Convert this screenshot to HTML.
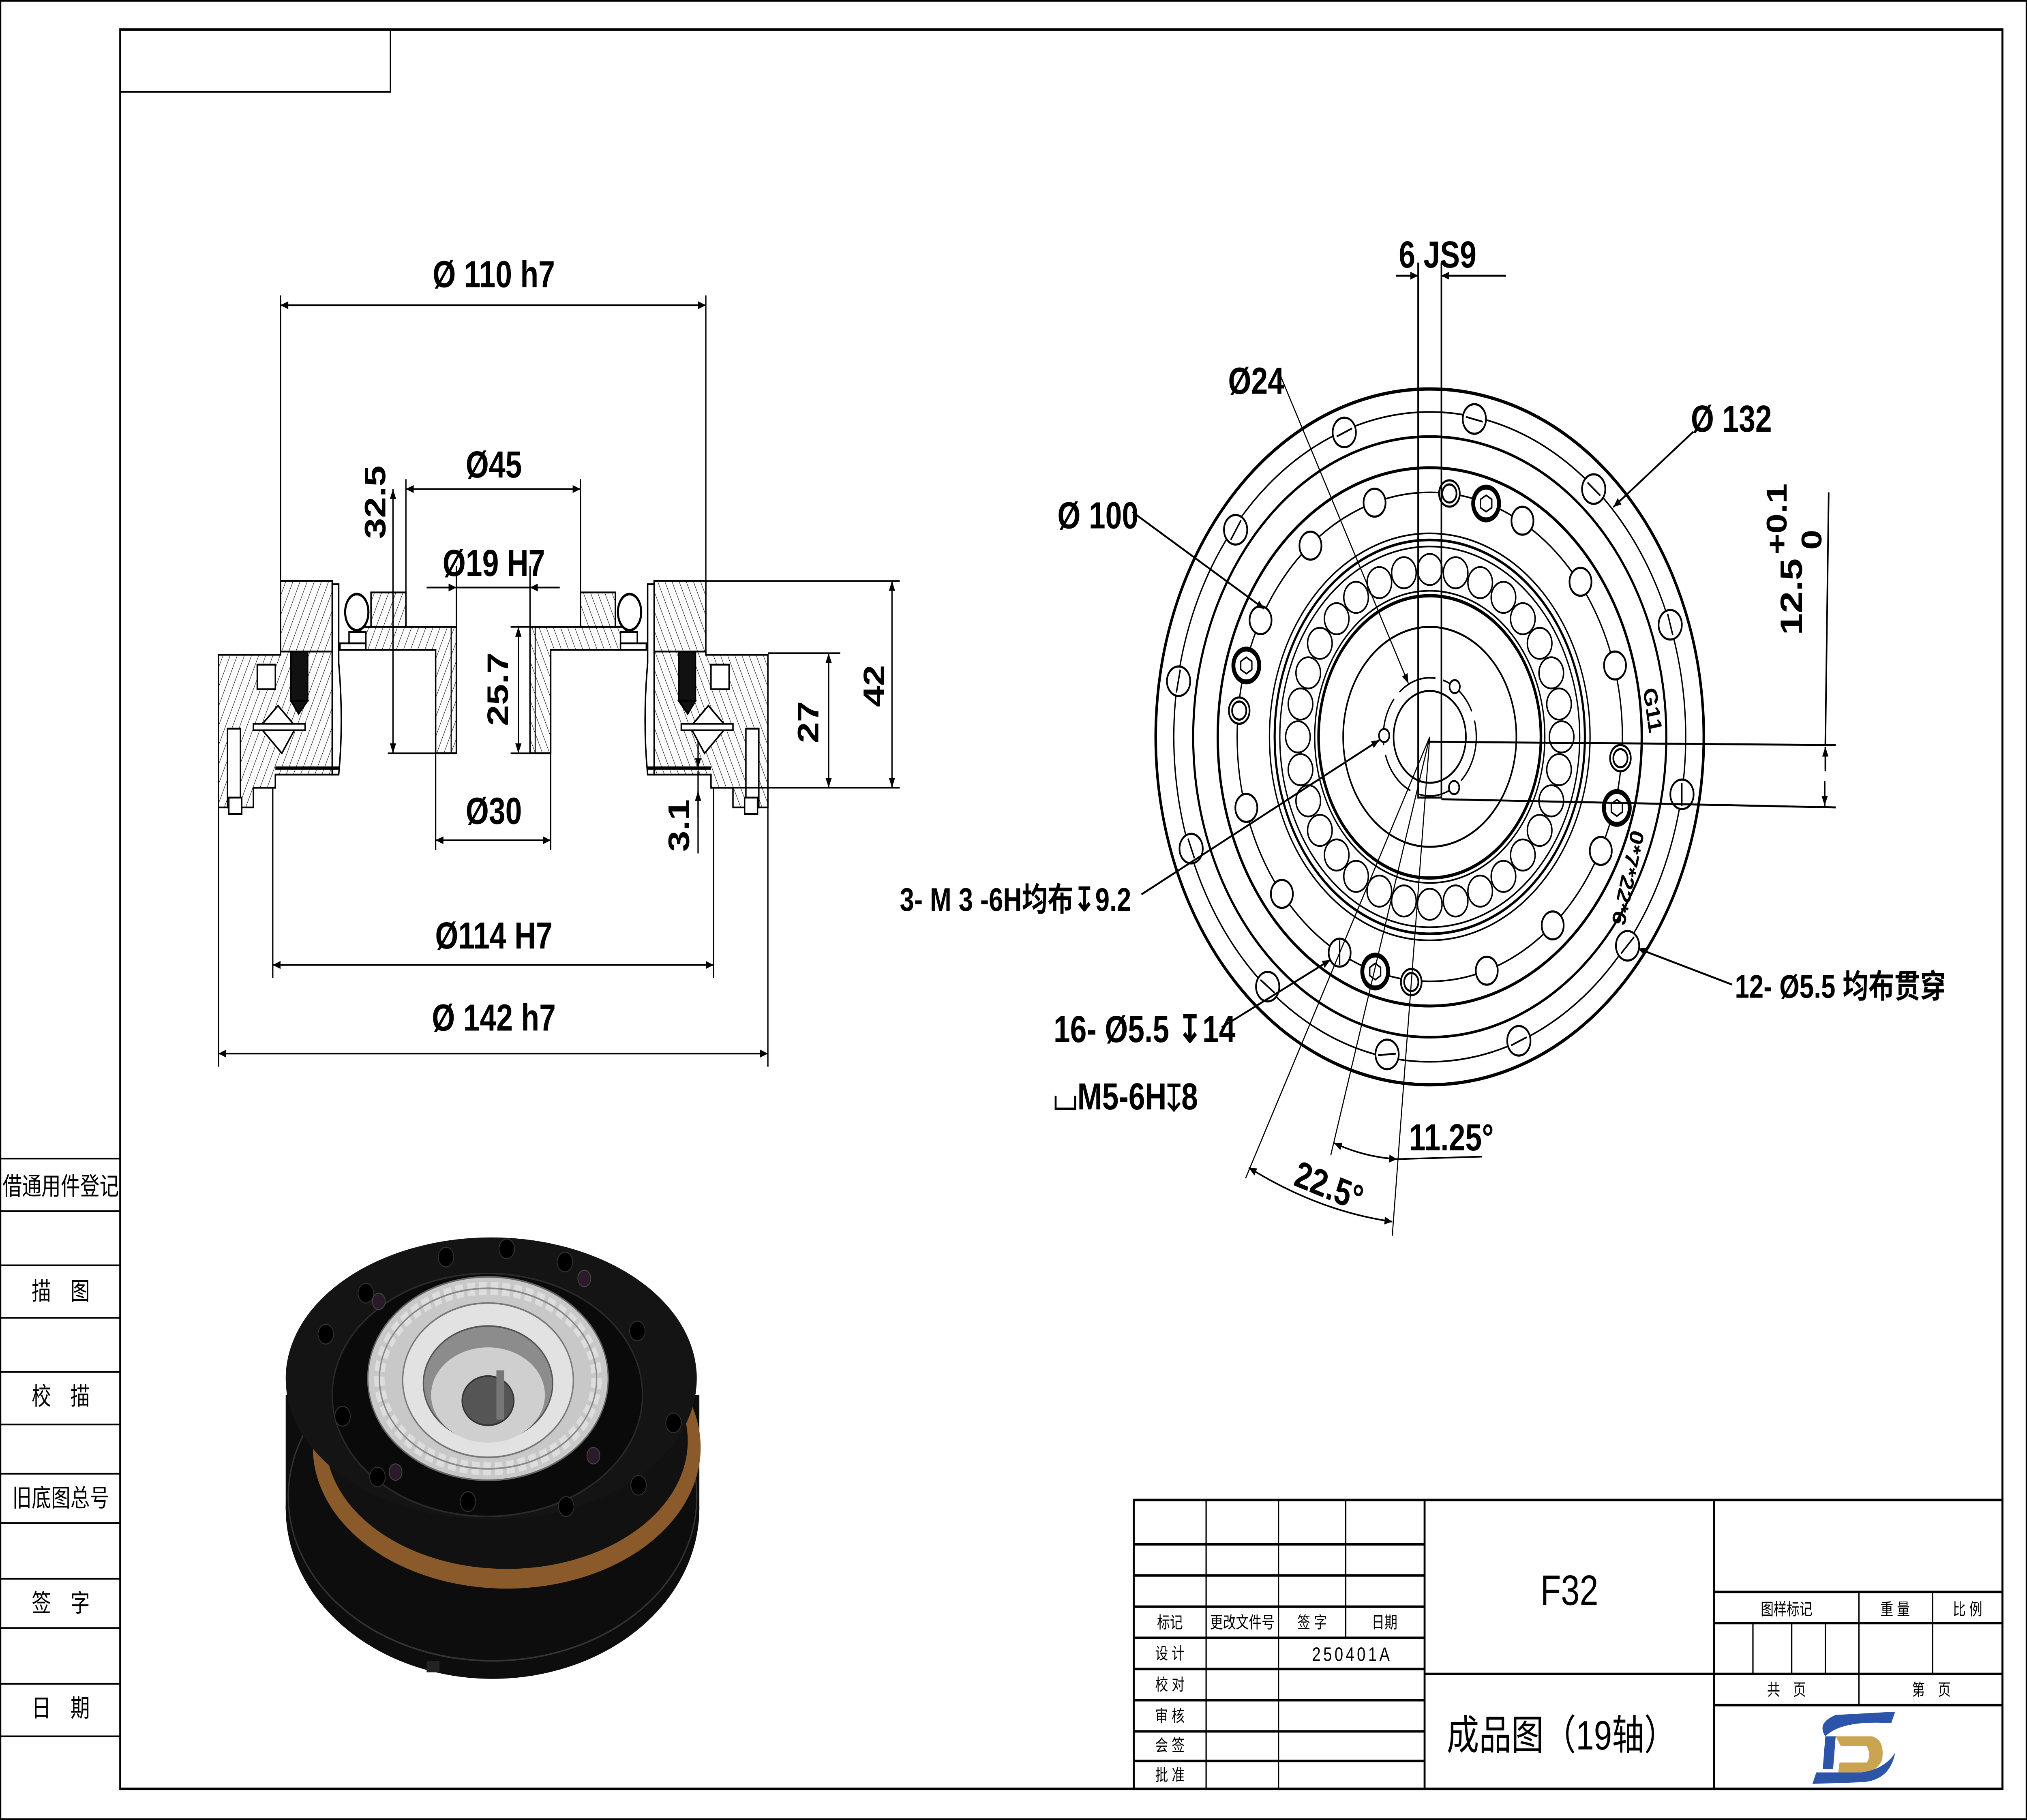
<!DOCTYPE html>
<html><head><meta charset="utf-8">
<style>
html,body{margin:0;padding:0;background:#fff;width:100%;height:100%;overflow:hidden;}
svg{display:block;width:100vw;height:100vh;}
text{font-family:"Liberation Sans Narrow","Liberation Sans","Noto Sans CJK SC",sans-serif;fill:#000;}
.cj{font-family:"Liberation Sans","Noto Sans CJK SC",sans-serif;}
</style></head><body>
<svg viewBox="0 0 1568 1109" preserveAspectRatio="none" xmlns="http://www.w3.org/2000/svg">
<defs>
<pattern id="h" width="5" height="5" patternUnits="userSpaceOnUse" patternTransform="rotate(25)">
<rect width="5" height="5" fill="#fff"/><line x1="0" y1="0" x2="0" y2="5" stroke="#000" stroke-width="0.6"/></pattern>
<marker id="a" viewBox="0 0 10 10" refX="10" refY="5" markerWidth="9" markerHeight="6" orient="auto-start-reverse" markerUnits="userSpaceOnUse"><path d="M0,1 L10,5 L0,9z" fill="#000"/></marker>
</defs>
<rect width="1568" height="1109" fill="#fff"/>
<rect x="93" y="18" width="1456" height="1072" fill="none" stroke="#000" stroke-width="1.5"/>
<rect x="0.5" y="0.5" width="1567" height="1108" fill="none" stroke="#000" stroke-width="1"/>
<polyline points="93,56 302,56 302,18" fill="none" stroke="#000" stroke-width="1"/>
<g stroke="#000" stroke-width="1">
<line x1="0" y1="706" x2="93" y2="706"/><line x1="0" y1="738" x2="93" y2="738"/>
<line x1="0" y1="771" x2="93" y2="771"/><line x1="0" y1="803" x2="93" y2="803"/>
<line x1="0" y1="836" x2="93" y2="836"/><line x1="0" y1="868" x2="93" y2="868"/>
<line x1="0" y1="898" x2="93" y2="898"/><line x1="0" y1="928" x2="93" y2="928"/>
<line x1="0" y1="962" x2="93" y2="962"/><line x1="0" y1="992" x2="93" y2="992"/>
<line x1="0" y1="1026" x2="93" y2="1026"/><line x1="0" y1="1058" x2="93" y2="1058"/>
</g>
<g font-size="15" text-anchor="middle">
<text x="47" y="728" class="cj">借通用件登记</text>
<text x="47" y="792" class="cj">描　图</text>
<text x="47" y="856" class="cj">校　描</text>
<text x="47" y="918" class="cj">旧底图总号</text>
<text x="47" y="982" class="cj">签　字</text>
<text x="47" y="1046" class="cj">日　期</text>
</g>

<!-- SECTION VIEW -->
<g id="half" stroke="#000" stroke-width="1.1">
<path d="M169,399 H217 V397 H257 V472 H213 V480 H196 V492 H169 Z" fill="url(#h)"/>
<rect x="217" y="354" width="40" height="43" fill="url(#h)"/>
<path d="M257,356 H262 V404 Q266,440 262,472 H257 Z" fill="#fff"/>
<rect x="199" y="405" width="14" height="15" fill="#fff"/>
<rect x="225" y="397" width="13" height="30" fill="#111"/>
<path d="M225,427 L231,435 L238,427Z" fill="#111"/>
<path d="M215,430 L229,443 L218,459 L201,443 Z" fill="#fff"/>
<rect x="196" y="441" width="40" height="4" fill="#fff"/>
<rect x="176" y="444" width="10" height="48" fill="#fff"/>
<rect x="177" y="486" width="10" height="10" fill="#fff"/>
<line x1="213" y1="468" x2="262" y2="468" stroke-width="2"/>
<rect x="287" y="361" width="27" height="21" fill="url(#h)"/>
<path d="M279,382 H353 V459 H337 V396 H279 Z" fill="url(#h)"/>
<line x1="349" y1="382" x2="349" y2="459" stroke-width="0.8"/>
<ellipse cx="276" cy="373" rx="9" ry="11" fill="#fff" stroke-width="1.6"/>
<rect x="270" y="385" width="13" height="8" fill="#fff"/>
<rect x="263" y="392" width="20" height="4" fill="#fff"/>
</g>
<use href="#half" transform="translate(763,0) scale(-1,1)"/>
<g stroke="#000" stroke-width="1" fill="none">
<line x1="217" y1="180" x2="217" y2="354"/><line x1="546" y1="180" x2="546" y2="354"/>
<line x1="217" y1="186" x2="546" y2="186" marker-start="url(#a)" marker-end="url(#a)"/>
<line x1="314" y1="292" x2="314" y2="361"/><line x1="449" y1="292" x2="449" y2="361"/>
<line x1="314" y1="298" x2="449" y2="298" marker-start="url(#a)" marker-end="url(#a)"/>
<line x1="330" y1="358" x2="353" y2="358" marker-end="url(#a)"/><line x1="433" y1="358" x2="410" y2="358" marker-end="url(#a)"/>
<line x1="353" y1="358" x2="410" y2="358"/>
<line x1="353" y1="345" x2="353" y2="382"/><line x1="410" y1="345" x2="410" y2="382"/>
<line x1="304" y1="298" x2="304" y2="459" marker-start="url(#a)" marker-end="url(#a)"/>
<line x1="300" y1="459" x2="337" y2="459"/>
<line x1="401" y1="382" x2="401" y2="459" marker-start="url(#a)" marker-end="url(#a)"/>
<line x1="395" y1="382" x2="410" y2="382"/><line x1="395" y1="459" x2="410" y2="459"/>
<line x1="337" y1="459" x2="337" y2="518"/><line x1="426" y1="459" x2="426" y2="518"/>
<line x1="337" y1="512" x2="426" y2="512" marker-start="url(#a)" marker-end="url(#a)"/>
<line x1="540" y1="470" x2="540" y2="520"/><line x1="540" y1="452" x2="540" y2="468" marker-end="url(#a)"/>
<line x1="540" y1="498" x2="540" y2="482" marker-end="url(#a)"/>
<line x1="594" y1="398" x2="650" y2="398"/><line x1="550" y1="480" x2="696" y2="480"/>
<line x1="546" y1="354" x2="696" y2="354"/>
<line x1="641" y1="398" x2="641" y2="480" marker-start="url(#a)" marker-end="url(#a)"/>
<line x1="690" y1="354" x2="690" y2="480" marker-start="url(#a)" marker-end="url(#a)"/>
<line x1="211" y1="480" x2="211" y2="596"/><line x1="552" y1="480" x2="552" y2="596"/>
<line x1="211" y1="588" x2="552" y2="588" marker-start="url(#a)" marker-end="url(#a)"/>
<line x1="169" y1="492" x2="169" y2="650"/><line x1="594" y1="492" x2="594" y2="650"/>
<line x1="169" y1="642" x2="594" y2="642" marker-start="url(#a)" marker-end="url(#a)"/>
</g>
<g font-size="23" text-anchor="middle" font-weight="bold">
<text x="382" y="175">Ø 110 h7</text>
<text x="382" y="291">Ø45</text>
<text x="382" y="351">Ø19 H7</text>
<text x="382" y="502">Ø30</text>
<text x="382" y="578">Ø114 H7</text>
<text x="382" y="628">Ø 142 h7</text>
<text transform="translate(298,306) rotate(-90)">32.5</text>
<text transform="translate(393,420) rotate(-90)">25.7</text>
<text transform="translate(533,503) rotate(-90)">3.1</text>
<text transform="translate(633,440) rotate(-90)">27</text>
<text transform="translate(684,418) rotate(-90)">42</text>
</g>

<!-- FRONT VIEW -->
<g fill="none" stroke="#000" stroke-width="1.3">
<circle cx="1106" cy="449" r="212" stroke-width="2"/>
<circle cx="1106" cy="449" r="198" stroke-width="1"/>
<circle cx="1106" cy="449" r="183" stroke-width="1.6"/>
<circle cx="1106" cy="449" r="164" stroke-width="1.8"/>
<circle cx="1106" cy="449" r="149" stroke-width="1"/>
<circle cx="1106" cy="449" r="124" stroke-width="1"/>
<circle cx="1106" cy="449" r="120" stroke-width="1.6"/>
<circle cx="1106" cy="449" r="116" stroke-width="1"/>
<circle cx="1106" cy="449" r="89" stroke-width="1"/>
<circle cx="1106" cy="449" r="86" stroke-width="2"/>
<circle cx="1106" cy="449" r="67" stroke-width="1.2"/>
<circle cx="1106" cy="449" r="36" stroke-width="1" stroke-dasharray="30 6"/>
<circle cx="1106" cy="449" r="28" stroke-width="1.2"/>
</g>
<g fill="#fff" stroke="#000" stroke-width="1.1">
<circle cx="1208" cy="449" r="9.5"/><circle cx="1206" cy="469" r="9.5"/><circle cx="1200" cy="488" r="9.5"/><circle cx="1191" cy="506" r="9.5"/><circle cx="1178" cy="521" r="9.5"/><circle cx="1163" cy="534" r="9.5"/><circle cx="1145" cy="543" r="9.5"/><circle cx="1126" cy="549" r="9.5"/><circle cx="1106" cy="551" r="9.5"/><circle cx="1086" cy="549" r="9.5"/><circle cx="1067" cy="543" r="9.5"/><circle cx="1049" cy="534" r="9.5"/><circle cx="1034" cy="521" r="9.5"/><circle cx="1021" cy="506" r="9.5"/><circle cx="1012" cy="488" r="9.5"/><circle cx="1006" cy="469" r="9.5"/><circle cx="1004" cy="449" r="9.5"/><circle cx="1006" cy="429" r="9.5"/><circle cx="1012" cy="410" r="9.5"/><circle cx="1021" cy="392" r="9.5"/><circle cx="1034" cy="377" r="9.5"/><circle cx="1049" cy="364" r="9.5"/><circle cx="1067" cy="355" r="9.5"/><circle cx="1086" cy="349" r="9.5"/><circle cx="1106" cy="347" r="9.5"/><circle cx="1126" cy="349" r="9.5"/><circle cx="1145" cy="355" r="9.5"/><circle cx="1163" cy="364" r="9.5"/><circle cx="1178" cy="377" r="9.5"/><circle cx="1191" cy="392" r="9.5"/><circle cx="1200" cy="410" r="9.5"/><circle cx="1206" cy="429" r="9.5"/>
</g>
<g fill="#fff" stroke="#000" stroke-width="1.3">
<circle cx="1140.5" cy="255.3" r="9"/><circle cx="1232.8" cy="298" r="9"/><circle cx="1292" cy="380.7" r="9"/><circle cx="1301.1" cy="484" r="9"/><circle cx="1259" cy="576.3" r="9"/><circle cx="1174.9" cy="634.2" r="9"/><circle cx="1073" cy="642.5" r="9"/><circle cx="980.6" cy="601.2" r="9"/><circle cx="921.4" cy="517.1" r="9"/><circle cx="911.7" cy="415.1" r="9"/><circle cx="955.8" cy="322.8" r="9"/><circle cx="1039.9" cy="263.5" r="9"/>
</g>
<g stroke="#000" stroke-width="1.1">
<line x1="1134" y1="254" x2="1147" y2="257"/><line x1="1228" y1="294" x2="1238" y2="302"/><line x1="1290" y1="374" x2="1294" y2="387"/><line x1="1301" y1="477" x2="1301" y2="491"/><line x1="1264" y1="571" x2="1254" y2="581"/><line x1="1181" y1="632" x2="1169" y2="637"/><line x1="1080" y1="642" x2="1066" y2="643"/><line x1="986" y1="605" x2="975" y2="597"/><line x1="924" y1="523" x2="919" y2="511"/><line x1="910" y1="422" x2="913" y2="408"/><line x1="952" y1="329" x2="960" y2="317"/><line x1="1034" y1="266" x2="1046" y2="261"/>
</g>
<g fill="#fff" stroke="#000" stroke-width="1.3">
<circle cx="1063.3" cy="306.3" r="8.5"/><circle cx="1177.7" cy="317.3" r="8.5"/><circle cx="1222.6" cy="354.5" r="8.5"/><circle cx="1249.3" cy="405.5" r="8.5"/><circle cx="1238.3" cy="518.5" r="8.5"/><circle cx="1201.1" cy="563.9" r="8.5"/><circle cx="1150.1" cy="591.5" r="8.5"/><circle cx="1036.3" cy="580.5" r="8.5"/><circle cx="991.6" cy="544.7" r="8.5"/><circle cx="964.1" cy="492.3" r="8.5"/><circle cx="975.1" cy="377.9" r="8.5"/><circle cx="1013.7" cy="332.5" r="8.5"/>
<circle cx="1121.2" cy="300.7" r="8"/><circle cx="1121.2" cy="300.7" r="5.5"/>
<circle cx="1253.5" cy="462" r="8"/><circle cx="1253.5" cy="462" r="5.5"/>
<circle cx="1091.7" cy="598.4" r="8"/><circle cx="1091.7" cy="598.4" r="5.5"/>
<circle cx="958.6" cy="433" r="8"/><circle cx="958.6" cy="433" r="5.5"/>
</g>
<g fill="#fff" stroke="#000" stroke-width="3">
<circle cx="1149.6" cy="306.8" r="10"/><circle cx="1250.7" cy="492.3" r="10"/><circle cx="1063.8" cy="592" r="10"/><circle cx="964.1" cy="405.5" r="10"/>
</g>
<g fill="none" stroke="#000" stroke-width="1">
<polygon points="1149.6,301.8 1154,304.3 1154,309.3 1149.6,311.8 1145.2,309.3 1145.2,304.3"/>
<polygon points="1250.7,487.3 1255,489.8 1255,494.8 1250.7,497.3 1246.4,494.8 1246.4,489.8"/>
<polygon points="1063.8,587 1068,589.5 1068,594.5 1063.8,597 1059.6,594.5 1059.6,589.5"/>
<polygon points="964.1,400.5 968.4,403 968.4,408 964.1,410.5 959.8,408 959.8,403"/>
<line x1="1036.3" y1="573" x2="1036.3" y2="588"/>
</g>
<g fill="#fff" stroke="#000" stroke-width="1.2">
<circle cx="1070.7" cy="448.2" r="4"/><circle cx="1125.3" cy="418.4" r="4"/><circle cx="1124.8" cy="479.9" r="4"/>
</g>
<g stroke="#000" stroke-width="1.2" fill="none">
<path d="M1097,420 V486 H1115 V420"/>
<line x1="1097" y1="160" x2="1097" y2="420"/><line x1="1115" y1="160" x2="1115" y2="420"/>
<line x1="1080" y1="168" x2="1097" y2="168" marker-end="url(#a)"/><line x1="1165" y1="168" x2="1115" y2="168" marker-end="url(#a)"/>
<line x1="1106" y1="452" x2="1420" y2="454"/><line x1="1115" y1="487" x2="1420" y2="492"/>
<line x1="1414.6" y1="300" x2="1412" y2="454"/>
<line x1="1412" y1="470" x2="1412" y2="455" marker-end="url(#a)"/>
<line x1="1411.5" y1="476" x2="1411.5" y2="491" marker-end="url(#a)"/>
<line x1="990" y1="228" x2="1089.5" y2="416.5" stroke-width="0.8" marker-end="url(#a)"/>
<line x1="1310" y1="263" x2="1248" y2="309" marker-end="url(#a)"/>
<line x1="876" y1="312" x2="978" y2="371" marker-end="url(#a)"/>
<line x1="883" y1="545" x2="1067" y2="451" marker-end="url(#a)"/>
<line x1="1340" y1="600" x2="1267" y2="578" marker-end="url(#a)"/>
<line x1="945" y1="626" x2="1029" y2="585" marker-end="url(#a)"/>
<line x1="1106" y1="449" x2="963.5" y2="718" stroke-width="0.8"/>
<line x1="1106" y1="449" x2="1029.4" y2="704" stroke-width="0.8"/>
<line x1="1106" y1="449" x2="1077" y2="753" stroke-width="0.8"/>
<path d="M1032,696.5 Q1055,705 1080.7,706.3" stroke-width="1" marker-start="url(#a)" marker-end="url(#a)"/>
<line x1="1080.7" y1="706.3" x2="1146.5" y2="704.8" stroke-width="1"/>
<path d="M966,711.5 Q1020,738 1077,744.4" stroke-width="1" marker-start="url(#a)" marker-end="url(#a)"/>
</g>
<g font-size="23" font-weight="bold">
<text x="1082" y="163">6 JS9</text>
<text x="950" y="240">Ø24</text>
<text x="1308" y="263">Ø 132</text>
<text x="818" y="322">Ø 100</text>
<text transform="translate(1394,387) rotate(-90)" font-size="24">12.5</text>
<text transform="translate(1382,338) rotate(-90)" font-size="22">+0.1</text>
<text transform="translate(1409,335) rotate(-90)" font-size="22">0</text>
<text x="696" y="555" class="cj" font-size="20">3- M 3 -6H均布↧9.2</text>
<text x="1342" y="608" class="cj" font-size="20">12- Ø5.5 均布贯穿</text>
<text x="815" y="635">16- Ø5.5 ↧14</text>
<text x="815" y="676">⌴M5-6H↧8</text>
<text x="1090" y="701">11.25°</text>
<text transform="translate(1000,722) rotate(18)">22.5°</text>
</g>
<g font-size="15" font-weight="bold">
<text transform="translate(1271,420) rotate(80)">G11</text>
<text transform="translate(1262,505) rotate(105)">0*7*22*6</text>
</g>

<!-- 3D RENDER -->
<g>
<rect x="221" y="850" width="320" height="70" fill="#0d0d0d"/>
<ellipse cx="381" cy="919" rx="160" ry="104" fill="#0d0d0d"/>
<ellipse cx="381" cy="912" rx="158" ry="100" fill="none" stroke="#333" stroke-width="1"/>
<ellipse cx="392" cy="882" rx="150" ry="86" fill="#8b5a2b"/>
<ellipse cx="392" cy="878" rx="140" ry="78" fill="#111"/>
<ellipse cx="380" cy="840" rx="159" ry="86" fill="#141414"/>
<ellipse cx="377" cy="850" rx="120" ry="74" fill="#0a0a0a" stroke="#2a2a2a"/>
<ellipse cx="377.5" cy="840" rx="93" ry="62" fill="#c8c8c8" stroke="#666"/>
<ellipse cx="377.5" cy="840" rx="84" ry="55" fill="none" stroke="#ddd" stroke-width="8" stroke-dasharray="6 3"/>
<ellipse cx="377.5" cy="840" rx="84" ry="55" fill="none" stroke="#888" stroke-width="1"/>
<ellipse cx="377.5" cy="841" rx="66" ry="47" fill="#e2e2e2" stroke="#777"/>
<ellipse cx="377.5" cy="843" rx="50" ry="35" fill="#8c8c8c" stroke="#555"/>
<ellipse cx="377.5" cy="850" rx="44" ry="29" fill="#cfcfcf"/>
<ellipse cx="377.5" cy="853.5" rx="20" ry="15" fill="#555" stroke="#333"/>
<rect x="384" y="835" width="6" height="30" fill="#777"/>
<g fill="#000" stroke="#333" stroke-width="0.6">
<circle cx="265" cy="863" r="6"/><circle cx="252" cy="813" r="6"/><circle cx="283" cy="788" r="6"/><circle cx="345" cy="766" r="6"/><circle cx="392" cy="761" r="6"/><circle cx="437" cy="769" r="6"/><circle cx="493" cy="811" r="6"/><circle cx="521" cy="867" r="6"/><circle cx="494" cy="905" r="6"/><circle cx="438" cy="918" r="6"/><circle cx="362" cy="915" r="6"/><circle cx="292" cy="900" r="6"/>
</g>
<g fill="#2a1a2a" stroke="#444" stroke-width="0.6">
<circle cx="293" cy="793" r="5"/><circle cx="452" cy="779" r="5"/><circle cx="459" cy="887" r="5"/><circle cx="306" cy="897" r="5"/>
</g>
<rect x="330" y="1012" width="10" height="7" fill="#222"/>
</g>

<!-- TITLE BLOCK -->
<g stroke="#000" stroke-width="1" fill="none">
<rect x="877" y="914" width="672" height="176" stroke-width="1.5"/>
<line x1="1102" y1="914" x2="1102" y2="1090" stroke-width="1.5"/>
<line x1="1326" y1="914" x2="1326" y2="1090" stroke-width="1.5"/>
<line x1="877" y1="941" x2="1102" y2="941" stroke-width="1.5"/>
<line x1="877" y1="960" x2="1102" y2="960" stroke-width="1.5"/>
<line x1="877" y1="979" x2="1102" y2="979" stroke-width="1.5"/>
<line x1="877" y1="998" x2="1102" y2="998" stroke-width="1.5"/>
<line x1="877" y1="1017" x2="1102" y2="1017" stroke-width="1.5"/>
<line x1="877" y1="1036" x2="1102" y2="1036" stroke-width="1.5"/>
<line x1="877" y1="1055" x2="1102" y2="1055" stroke-width="1.5"/>
<line x1="877" y1="1073" x2="1102" y2="1073" stroke-width="1.5"/>
<line x1="933" y1="914" x2="933" y2="1090"/>
<line x1="989" y1="914" x2="989" y2="1090"/>
<line x1="1041" y1="914" x2="1041" y2="998"/>
<line x1="1102" y1="1020" x2="1326" y2="1020" stroke-width="1.5"/>
<line x1="1326" y1="970" x2="1549" y2="970" stroke-width="1.5"/>
<line x1="1326" y1="989" x2="1549" y2="989" stroke-width="1.5"/>
<line x1="1326" y1="1020" x2="1549" y2="1020" stroke-width="1.5"/>
<line x1="1326" y1="1039" x2="1549" y2="1039" stroke-width="1.5"/>
<line x1="1438" y1="970" x2="1438" y2="1039"/>
<line x1="1495" y1="970" x2="1495" y2="1020"/>
<line x1="1356" y1="989" x2="1356" y2="1020"/>
<line x1="1386" y1="989" x2="1386" y2="1020"/>
<line x1="1412" y1="989" x2="1412" y2="1020"/>
</g>
<g font-size="10" text-anchor="middle">
<text x="905" y="992" class="cj">标记</text><text x="961" y="992" class="cj">更改文件号</text>
<text x="1015" y="992" class="cj">签 字</text><text x="1071" y="992" class="cj">日期</text>
<text x="905" y="1011" class="cj">设 计</text><text x="1046" y="1012" font-size="12" letter-spacing="2">250401A</text>
<text x="905" y="1030" class="cj">校 对</text><text x="905" y="1049" class="cj">审 核</text>
<text x="905" y="1067" class="cj">会 签</text><text x="905" y="1085" class="cj">批 准</text>
<text x="1382" y="984" class="cj">图样标记</text><text x="1466" y="984" class="cj">重 量</text><text x="1522" y="984" class="cj">比 例</text>
<text x="1382" y="1033" class="cj">共　页</text><text x="1494" y="1033" class="cj">第　页</text>
</g>
<text x="1214" y="978" font-size="26" text-anchor="middle">F32</text>
<text x="1208" y="1066" font-size="25" text-anchor="middle" class="cj">成品图（19轴）</text>
<path d="M1466,1043 L1463,1050 Q1425,1048 1412,1058 Q1405,1050 1420,1045 Z" fill="#2c54a8"/>
<path d="M1412,1058 L1420,1058 L1418,1078 L1410,1078 Z" fill="#2c54a8"/>
<path d="M1420,1058 H1448 Q1458,1060 1456,1072 Q1452,1080 1440,1080 H1422 L1423,1074 H1444 Q1448,1070 1444,1064 H1424 Z" fill="#c9a551"/>
<path d="M1466,1068 Q1462,1085 1440,1086 L1402,1087 L1405,1080 L1440,1080 Q1458,1078 1466,1068Z" fill="#2c54a8"/>
</svg>
</body></html>
